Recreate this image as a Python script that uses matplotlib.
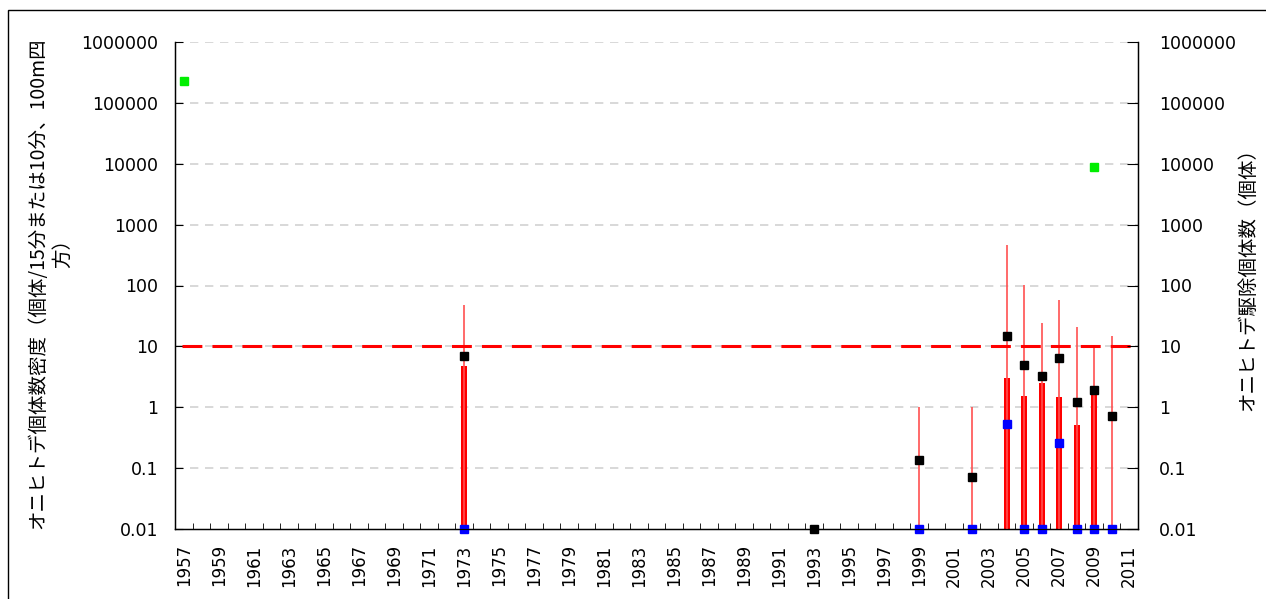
import matplotlib
matplotlib.use('Agg')
from matplotlib import pyplot as plt
from matplotlib.patches import Rectangle
from matplotlib.ticker import FixedLocator, FuncFormatter, NullLocator
import numpy as np

plt.rcParams['font.family'] = ['DejaVu Sans']
jp_font = ['Noto Sans CJK JP', 'DejaVu Sans']

# 年（カテゴリ）
years = list(range(1957, 2012))

# オニヒトデ個体数密度（平均）と最大値
density_years = [1973, 1993, 1999, 2002, 2004, 2005, 2006, 2007, 2008, 2009, 2010]
density_mean = [7.0, 0.01, 0.137, 0.072, 14.9, 5.0, 3.3, 6.5, 1.23, 1.93, 0.72]
density_max = [48, 0.01, 1.0, 1.0, 464, 102, 24, 58, 21, 10, 15]
density_min = [0.01, 0.01, 0.01, 0.01, 0.01, 0.01, 0.01, 0.01, 0.01, 0.01, 0.01]

# 駆除個体数（棒）
removal_years = [1973, 2004, 2005, 2006, 2007, 2008, 2009]
removal_count = [4.8, 3.0, 1.54, 2.5, 1.5, 0.51, 1.7]

# 青マーカー
blue_years = [1973, 1999, 2002, 2004, 2005, 2006, 2007, 2008, 2009, 2010]
blue_values = [0.01, 0.01, 0.01, 0.53, 0.01, 0.01, 0.26, 0.01, 0.01, 0.01]

# 緑マーカー
green_years = [1957, 2009]
green_values = [225000, 8800]

threshold = 10
ytick_values = [0.01, 0.1, 1, 10, 100, 1000, 10000, 100000, 1000000]

fig = plt.figure(figsize=(12.66, 5.99), dpi=100)
ax = fig.add_axes([175 / 1266, 1 - 529 / 599, 963 / 1266, 487 / 599])
ax.set_yscale('log')
ax.set_ylim(0.01, 1000000)
ax.set_xlim(years[0] - 0.5, years[-1] + 0.5)

# グリッド（破線）
for v in ytick_values[1:]:
    ax.axhline(v, color='#d2d2d2', lw=1.2, linestyle=(0, (5, 4)), zorder=0)

# 駆除個体数の棒
bar_bottom = 0.001
ax.bar(removal_years, [c - bar_bottom for c in removal_count], bottom=bar_bottom,
       width=0.36, color='#ff0000', zorder=2)

# 密度の範囲（細線）
ax.vlines(density_years, density_min, density_max, color='#ff5050', lw=1.2, zorder=3)

# 基準線 10
ax.axhline(threshold, xmin=7 / 963, xmax=1 - 7 / 963, color='#ff0000', lw=2.2,
           linestyle=(0, (6.5, 3.3)), zorder=3)

ax.plot(density_years, density_mean, 's', color='black', ms=6, zorder=5, clip_on=False)
ax.plot(blue_years, blue_values, 's', color='#0000ff', ms=6, zorder=6, clip_on=False)
ax.plot(green_years, green_values, 's', color='#00ee00', ms=6, zorder=6, clip_on=False)

fmt = FuncFormatter(lambda v, pos: f'{v:.10g}')
ax.yaxis.set_major_locator(FixedLocator(ytick_values))
ax.yaxis.set_minor_locator(NullLocator())
ax.yaxis.set_major_formatter(fmt)
ax.tick_params(axis='y', direction='in', length=6, pad=12, labelsize=12.5)

# x軸：境界に目盛り、奇数年にラベル
ax.xaxis.set_major_locator(FixedLocator(years[::2]))
ax.xaxis.set_minor_locator(FixedLocator([y - 0.5 for y in years] + [years[-1] + 0.5]))
ax.xaxis.set_major_formatter(FuncFormatter(lambda v, pos: f'{int(v)}'))
ax.tick_params(axis='x', which='major', length=0, pad=11, labelsize=12, labelrotation=90)
ax.tick_params(axis='x', which='minor', direction='in', length=4)

ax.spines['top'].set_visible(False)
for s in ['left', 'right', 'bottom']:
    ax.spines[s].set_linewidth(1)

ax2 = ax.twinx()
ax2.set_yscale('log')
ax2.set_ylim(ax.get_ylim())
ax2.yaxis.set_major_locator(FixedLocator(ytick_values))
ax2.yaxis.set_minor_locator(NullLocator())
ax2.yaxis.set_major_formatter(fmt)
ax2.tick_params(axis='y', direction='in', length=8, pad=15, labelsize=12.5)
ax2.spines['top'].set_visible(False)

# 左軸タイトル（2行に折り返し）
fig.text(38 / 1266, 1 - 283 / 599, 'オニヒトデ個体数密度（個体/15分または10分、100m四',
         rotation=90, ha='center', va='center', fontsize=14, family=jp_font)
fig.text(63 / 1266, 1 - 248 / 599, '方）',
         rotation=90, ha='center', va='center', fontsize=14, family=jp_font)
fig.text(1248 / 1266, 1 - 275 / 599, 'オニヒトデ駆除個体数（個体）',
         rotation=90, ha='center', va='center', fontsize=14, family=jp_font)

# 外枠
fig.patches.append(Rectangle((8 / 1266, -0.1), 1.2, 1.1 - 10 / 599, transform=fig.transFigure,
                             fill=False, edgecolor='black', lw=1))

fig.savefig('out.png', dpi=100)
